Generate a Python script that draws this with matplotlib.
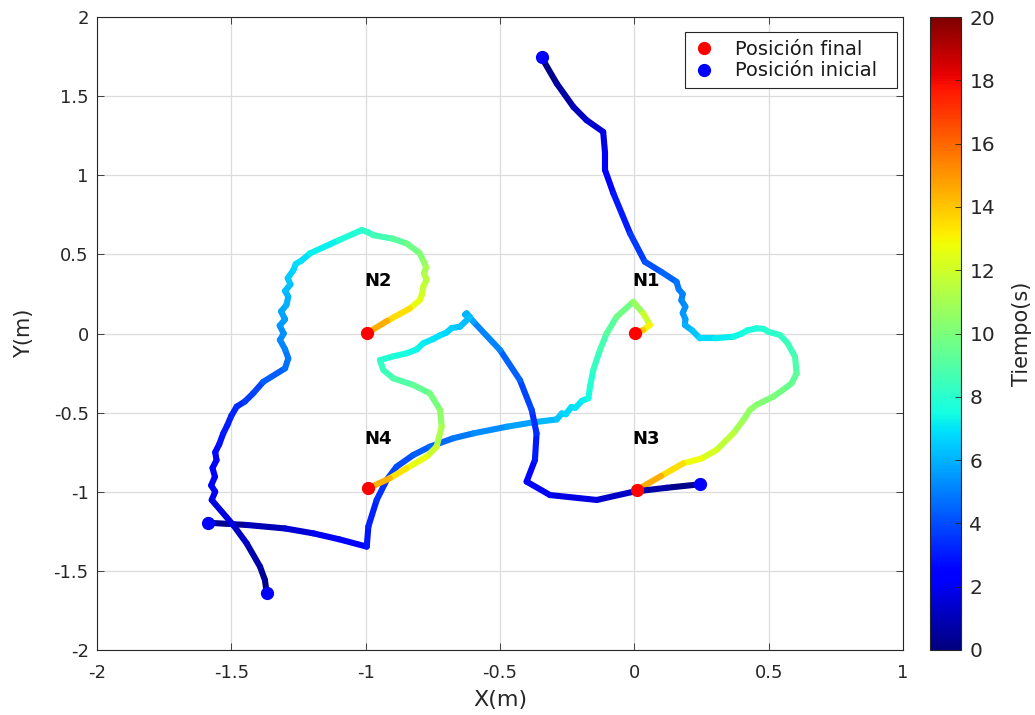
import numpy as np
import matplotlib
matplotlib.use("Agg")
import matplotlib.pyplot as plt
from matplotlib.collections import LineCollection
from matplotlib.colors import Normalize
from matplotlib.patches import Rectangle

plt.rcParams['font.family'] = ['DejaVu Sans']

# Trayectoria hacia N1 (x, y, tiempo)
n1_x = [-1.586, -1.443, -1.30, -1.195, -1.10, -0.996, -0.99, -0.959, -0.922, -0.885, -0.823, -0.761,
        -0.674, -0.599, -0.475, -0.376, -0.289, -0.27, -0.255, -0.235, -0.22, -0.195, -0.171,
        -0.165, -0.153, -0.128, -0.103, -0.066, -0.004, 0.033, 0.058, 0.033, 0.002]
n1_y = [-1.196, -1.210, -1.232, -1.263, -1.30, -1.347, -1.22, -1.052, -0.926, -0.842, -0.768, -0.715,
        -0.662, -0.631, -0.589, -0.561, -0.543, -0.505, -0.51, -0.465, -0.47, -0.425, -0.409,
        -0.336, -0.231, -0.104, 0.001, 0.106, 0.201, 0.128, 0.054, 0.022, 0.005]
n1_t = [0.0, 0.7, 1.3, 1.8, 2.3, 2.8, 3.0, 3.3, 3.6, 3.9, 4.2, 4.4,
        4.7, 5.0, 5.5, 5.9, 6.3, 6.5, 6.65, 6.8, 6.95, 7.1, 7.3,
        7.7, 8.1, 8.5, 8.9, 9.4, 10.1, 11.4, 12.5, 13.5, 14.5]

# Trayectoria hacia N2
n2_x = [-1.368, -1.375, -1.393, -1.443, -1.493, -1.573, -1.56, -1.575, -1.561, -1.57, -1.555, -1.56,
        -1.545, -1.530, -1.515, -1.500, -1.480, -1.45, -1.42, -1.381, -1.30, -1.288, -1.30, -1.319,
        -1.305, -1.32, -1.30, -1.315, -1.295, -1.288, -1.30, -1.28, -1.29, -1.269, -1.26, -1.24,
        -1.207, -1.10, -1.015, -0.99, -0.972, -0.90, -0.848, -0.80, -0.785, -0.775, -0.783, -0.773,
        -0.785, -0.79, -0.798, -0.835, -0.92, -0.996]
n2_y = [-1.642, -1.558, -1.474, -1.326, -1.210, -1.052, -1.0, -0.96, -0.905, -0.85, -0.80, -0.75,
        -0.70, -0.631, -0.58, -0.52, -0.462, -0.43, -0.38, -0.305, -0.22, -0.157, -0.10, -0.04,
        0.0, 0.05, 0.09, 0.14, 0.18, 0.233, 0.27, 0.31, 0.35, 0.401, 0.44, 0.46,
        0.507, 0.59, 0.654, 0.64, 0.622, 0.60, 0.570, 0.51, 0.46, 0.42, 0.38, 0.34,
        0.30, 0.25, 0.212, 0.159, 0.08, 0.001]
n2_t = [0.0, 0.3, 0.6, 1.1, 1.5, 1.9, 2.0, 2.1, 2.2, 2.35, 2.5, 2.65,
        2.8, 2.95, 3.05, 3.15, 3.3, 3.5, 3.7, 4.0, 4.6, 4.8, 5.0, 5.2,
        5.3, 5.45, 5.6, 5.75, 5.9, 6.0, 6.15, 6.3, 6.45, 6.6, 6.75, 6.85,
        7.0, 7.5, 8.0, 8.15, 8.3, 8.9, 9.4, 10.0, 10.4, 10.8, 11.1, 11.4,
        11.7, 12.0, 12.3, 13.0, 14.0, 15.0]

# Trayectoria hacia N3
n3_x = [-0.345, -0.289, -0.227, -0.178, -0.116, -0.109, -0.109, -0.078, -0.016, 0.039, 0.10, 0.157,
        0.165, 0.18, 0.175, 0.19, 0.18, 0.19, 0.188, 0.215, 0.244, 0.30, 0.368, 0.40,
        0.42, 0.455, 0.48, 0.50, 0.542, 0.57, 0.598, 0.604, 0.585, 0.55, 0.517, 0.48,
        0.455, 0.430, 0.40, 0.368, 0.306, 0.25, 0.182, 0.10, 0.009]
n3_y = [1.745, 1.581, 1.433, 1.349, 1.275, 1.139, 1.033, 0.886, 0.633, 0.454, 0.39, 0.327,
        0.28, 0.25, 0.21, 0.17, 0.13, 0.09, 0.054, 0.02, -0.030, -0.03, -0.020, 0.0,
        0.02, 0.033, 0.03, 0.01, -0.009, -0.06, -0.147, -0.252, -0.315, -0.36, -0.399, -0.43,
        -0.45, -0.483, -0.56, -0.631, -0.736, -0.79, -0.820, -0.90, -0.989]
n3_t = [0.0, 0.5, 0.9, 1.3, 1.6, 2.0, 2.3, 2.7, 3.3, 3.9, 4.3, 4.7,
        4.85, 5.0, 5.15, 5.3, 5.45, 5.6, 5.8, 6.2, 6.6, 7.0, 7.3, 7.45,
        7.6, 7.7, 7.8, 8.0, 8.2, 8.45, 8.7, 9.1, 9.4, 9.65, 9.9, 10.1,
        10.25, 10.4, 10.8, 11.2, 12.0, 12.5, 13.0, 14.0, 15.0]

# Trayectoria hacia N4
n4_x = [0.244, 0.12, -0.004, -0.140, -0.314, -0.401, -0.370, -0.364, -0.382, -0.426, -0.500, -0.599,
        -0.624, -0.630, -0.612, -0.649, -0.68, -0.70, -0.723, -0.75, -0.786, -0.81, -0.848, -0.90,
        -0.947, -0.934, -0.897, -0.823, -0.761, -0.723, -0.717, -0.736, -0.773, -0.848, -0.910, -0.990]
n4_y = [-0.953, -0.975, -1.000, -1.052, -1.021, -0.936, -0.799, -0.631, -0.483, -0.294, -0.104, 0.075,
        0.128, 0.120, 0.105, 0.043, 0.035, 0.005, -0.011, -0.035, -0.062, -0.10, -0.125, -0.145,
        -0.168, -0.231, -0.283, -0.325, -0.378, -0.483, -0.589, -0.715, -0.778, -0.852, -0.915, -0.978]
n4_t = [0.0, 0.5, 1.0, 1.5, 2.0, 2.4, 2.8, 3.2, 3.6, 4.1, 4.7, 5.6,
        5.9, 6.0, 6.1, 6.3, 6.5, 6.65, 6.8, 6.95, 7.1, 7.3, 7.5, 7.75,
        8.0, 8.3, 8.7, 9.2, 9.6, 10.2, 10.8, 11.6, 12.2, 13.0, 13.8, 15.0]

nodos = ['N1', 'N2', 'N3', 'N4']
nodo_x = [0.0, -1.0, 0.0, -1.0]
nodo_y = [0.0, 0.0, -1.0, -1.0]

trayectorias = [(n1_x, n1_y, n1_t), (n2_x, n2_y, n2_t), (n3_x, n3_y, n3_t), (n4_x, n4_y, n4_t)]

gris = '#262626'

fig = plt.figure(figsize=(10.35, 7.15), dpi=100)
ax = fig.add_axes([0.0937, 0.091, 0.7788, 0.885])
cax = fig.add_axes([0.8986, 0.091, 0.0300, 0.885])

norm = Normalize(vmin=0, vmax=20)
cmap = plt.get_cmap('jet')

# cada tramo se colorea con el tiempo medio de sus extremos
for x, y, t in trayectorias:
    pts = np.column_stack([x, y])
    segs = np.stack([pts[:-1], pts[1:]], axis=1)
    tm = 0.5 * (np.array(t[:-1]) + np.array(t[1:]))
    lc = LineCollection(segs, cmap=cmap, norm=norm, linewidths=4.4, capstyle='round', joinstyle='round')
    lc.set_array(tm)
    ax.add_collection(lc)

ini_x = [tr[0][0] for tr in trayectorias]
ini_y = [tr[1][0] for tr in trayectorias]
fin_x = [tr[0][-1] for tr in trayectorias]
fin_y = [tr[1][-1] for tr in trayectorias]

ax.plot(fin_x, fin_y, 'o', color=(1, 0, 0), markersize=8.5, label='Posición final', zorder=5)
ax.plot(ini_x, ini_y, 'o', color=(0, 0, 1), markersize=8.5, label='Posición inicial', zorder=5)

for nombre, nx, ny in zip(nodos, nodo_x, nodo_y):
    ax.text(nx + 0.045, ny + 0.335, nombre, fontsize=13, fontweight='bold',
            ha='center', va='center', color='black')

ax.set_xlim(-2, 1)
ax.set_ylim(-2, 2)
ax.set_xticks(np.arange(-2, 1.01, 0.5))
ax.set_yticks(np.arange(-2, 2.01, 0.5))
ax.set_xticklabels(['-2', '-1.5', '-1', '-0.5', '0', '0.5', '1'])
ax.set_yticklabels(['-2', '-1.5', '-1', '-0.5', '0', '0.5', '1', '1.5', '2'])
ax.grid(True, color='#dcdcdc', linewidth=0.9)
ax.set_axisbelow(True)
ax.tick_params(direction='in', top=True, right=True, length=5, width=0.6, colors=gris,
               labelsize=13)
ax.tick_params(axis='x', pad=10)
ax.tick_params(axis='y', pad=6)
for s in ax.spines.values():
    s.set_color(gris)
    s.set_linewidth(0.8)
ax.set_xlabel('X(m)', fontsize=16, color=gris, labelpad=6)
ax.set_ylabel('Y(m)', fontsize=15, color=gris, labelpad=14)

# marco de la leyenda dibujado aparte, algo más ancho que el texto
caja_x0, caja_y0, caja_w, caja_h = 0.7295, 0.8878, 0.2630, 0.0885
ax.add_patch(Rectangle((caja_x0, caja_y0), caja_w, caja_h, transform=ax.transAxes,
                       facecolor='white', edgecolor=gris, linewidth=0.8, zorder=6))
leg = ax.legend(loc='center left', bbox_to_anchor=(caja_x0, caja_y0 + caja_h / 2), fontsize=14,
                frameon=False, handletextpad=0.75, borderpad=0.2, labelspacing=0.12,
                handlelength=1.6, borderaxespad=0.0)
leg.set_zorder(7)
for txt in leg.get_texts():
    txt.set_color('#1a1a1a')

sm = plt.cm.ScalarMappable(norm=norm, cmap=cmap)
cb = fig.colorbar(sm, cax=cax, ticks=np.arange(0, 21, 2))
cb.outline.set_edgecolor(gris)
cb.outline.set_linewidth(0.8)
cax.tick_params(direction='in', length=4, width=0.6, colors=gris, labelsize=14.5, pad=6)
cb.set_label('Tiempo(s)', fontsize=15, color=gris, labelpad=12)

fig.savefig('out.png', dpi=100)
